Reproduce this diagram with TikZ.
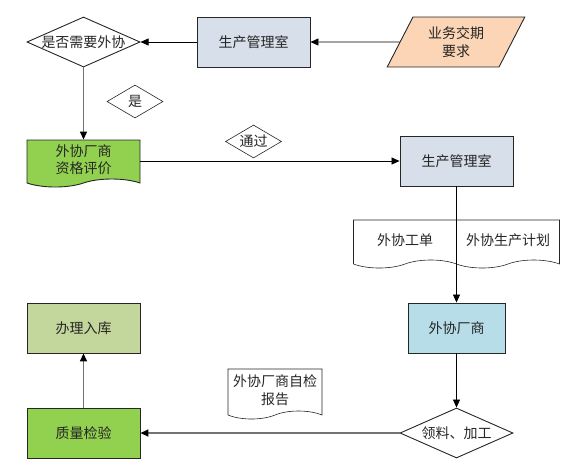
\documentclass[tikz,border=0pt]{standalone}
\usepackage{fontspec}
\setmainfont{Noto Sans CJK SC}
\usetikzlibrary{shapes.geometric}
\usetikzlibrary{shapes.symbols}
\usetikzlibrary{arrows.meta}
\definecolor{deptblue}{HTML}{D6DFEA}
\definecolor{inputorange}{HTML}{FBD5B5}
\definecolor{evalgreen}{HTML}{92D050}
\definecolor{storegreen}{HTML}{C3D69B}
\definecolor{vendorblue}{HTML}{B7DDE8}
\tikzstyle{box}=[draw=black!85, line width=0.9pt, minimum width=113pt, minimum height=50pt,
                 inner sep=2pt, align=center, text=black!85,
                 font=\fontsize{14}{17.5}\selectfont]
\tikzstyle{decision}=[box, diamond, fill=white, inner sep=0, aspect=2.26]
\tikzstyle{tag}=[decision, minimum width=56pt, minimum height=33pt, line width=0.6pt, aspect=1.7]
\tikzstyle{doc}=[box, tape, tape bend top=none, tape bend height=8pt, line width=0.6pt]
\tikzstyle{flow}=[draw=black, -{Triangle[length=8pt, width=7pt, color=black]}, line width=0.8pt]
\tikzstyle{grayflow}=[flow, draw=black!55, line width=1.6pt]

\begin{document}
\begin{tikzpicture}[x=1pt, y=-1pt]
        \useasboundingbox (0, 0) rectangle (581, 475);
        % top row
        \node[decision]                                   (ask) at (83.5, 42) {是否需要外协};
        \node[box, fill=deptblue]                         (dept1) at (253.5, 42) {生产管理室};
        \node[box, trapezium, trapezium left angle=62.5, trapezium right angle=117.5,
              trapezium stretches=true, minimum width=138pt, fill=inputorange] (due) at (456, 42) {业务交期\\要求};
        \node[tag]                                        (yes) at (135, 101.5) {是};
        % evaluation
        \node[doc, fill=evalgreen, line width=0.9pt, minimum height=47pt] (eval) at (83.5, 159.5) {外协厂商\\资格评价};
        \node[tag]                                        (pass) at (253.5, 141.5) {通过};
        \node[box, fill=deptblue]                         (dept2) at (456.5, 161) {生产管理室};
        \node[doc, minimum width=103pt, minimum height=48pt] (order) at (405, 240) {外协工单};
        \node[doc, minimum width=103pt, minimum height=48pt] (plan) at (508, 240) {外协生产计划};
        % vendor and inspection
        \node[box, fill=vendorblue, minimum width=97pt]   (vendor) at (456.5, 328) {外协厂商};
        \node[decision]                                   (make) at (456.5, 433) {领料、加工};
        \node[doc, minimum width=94pt, minimum height=50pt] (report) at (275, 390) {外协厂商自检\\报告};
        \node[box, fill=evalgreen]                        (check) at (83.5, 433) {质量检验};
        \node[box, fill=storegreen]                       (store) at (83.5, 328) {办理入库};
        \draw[flow] (due.west) -- (dept1.east);
        \draw[flow] (dept1.west) -- (ask.east);
        \draw[grayflow] (ask.south) -- (eval.north);
        \draw[flow] (eval.east |- dept2.west) -- (dept2.west);
        \draw[flow] (dept2.south) -- (vendor.north);
        \draw[flow] (vendor.south) -- (make.north);
        \draw[grayflow] (make.west) -- (check.east);
        \draw[grayflow] (check.north) -- (store.south);
    \end{tikzpicture}
\end{document}
